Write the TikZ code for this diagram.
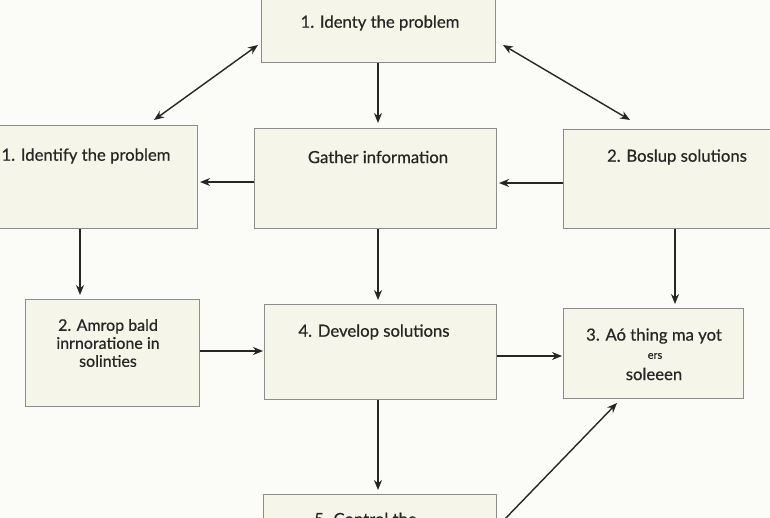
\documentclass[tikz,border=0pt]{standalone}
\usepackage{fontspec}
\setmainfont{Lato}[FakeBold=0.5]
\usetikzlibrary{arrows.meta,calc}
\definecolor{bgc}{HTML}{FBFBF7}
\definecolor{boxfill}{HTML}{F6F5EA}
\definecolor{boxline}{HTML}{8C8C88}
\definecolor{ink}{HTML}{262626}
\tikzset{
  box/.style={draw=boxline, fill=boxfill, line width=1.1pt, rectangle, inner sep=0pt},
  lbl/.style={text=ink, font=\fontsize{16.7}{18}\selectfont, align=center, inner sep=0pt},
  arr/.style={draw=ink, line width=1.4pt, -{Stealth[length=10pt,width=8pt]}},
  darr/.style={draw=ink, line width=1.4pt, {Stealth[length=10pt,width=8pt]}-{Stealth[length=10pt,width=8pt]}}
}
\newcommand{\boxat}[5]{\node[box, anchor=north west, minimum width={#4-#2}, minimum height={#5-#3}] (#1) at (#2,#3) {};}
\begin{document}
\begin{tikzpicture}[x=1pt,y=-1pt]
\useasboundingbox (0,0) rectangle (770,518);
\clip (0,0) rectangle (770,518);
\fill[bgc] (0,0) rectangle (770,518);
% boxes
\boxat{top}{261}{-5}{495}{62}
\boxat{lB}{-31}{125}{197}{228}
\boxat{mB}{254}{128}{496}{228}
\boxat{rB}{563}{129}{791}{228}
\boxat{lC}{25}{299}{199}{406}
\boxat{mC}{264}{304}{496}{399}
\boxat{rC}{563}{308}{743}{398}
\boxat{bD}{263}{494}{496}{570}
% texts
\node[lbl] (ttop) at (380,23) {1. Identy the problem};
\node[lbl] (tlB) at (86,156) {1. Identify the problem};
\node[lbl] (tmB) at (378,157) {Gather information};
\node[lbl] (trB) at (677,157) {2. Boslup solutions};
\node[lbl, font=\fontsize{16}{18}\selectfont] (tlC) at (108,343) {2. Amrop bald\\inrnoratione in\\solinties};
\node[lbl] (tmC) at (374,332) {4. Develop solutions};
\node[lbl] (trC1) at (654,336) {3. Aó thing ma yot};
\node[lbl, font=\fontsize{11}{12}\selectfont] (trC2) at (655,356) {ers};
\node[lbl] (trC3) at (654,374) {soleeen};
\node[lbl, anchor=base west] (tbD) at (314,525) {5. Control the};
% column coordinates
\coordinate (cx) at (378,0);
\coordinate (lx) at (80,0);
\coordinate (rx) at (675,0);
\coordinate (y2a) at (0,182);
\coordinate (y2b) at (0,183);
\coordinate (y3a) at (0,351);
\coordinate (y3b) at (0,356);
% vertical arrows
\draw[arr, shorten >=5pt] (top.south -| cx) -- (mB.north -| cx);
\draw[arr, shorten >=4pt] (mB.south -| cx) -- (mC.north -| cx);
\draw[arr, shorten >=4pt] (mC.south -| cx) -- (bD.north -| cx);
\draw[arr, shorten >=4pt] (lB.south -| lx) -- (lC.north -| lx);
\draw[arr, shorten >=4pt] (rB.south -| rx) -- (rC.north -| rx);
% horizontal arrows
\draw[arr, shorten >=2pt] (mB.west |- y2a) -- (lB.east |- y2a);
\draw[arr, shorten >=2pt] (rB.west |- y2b) -- (mB.east |- y2b);
\draw[arr, shorten >=1pt] (lC.east |- y3a) -- (mC.west |- y3a);
\draw[arr, shorten >=1pt] (mC.east |- y3b) -- (rC.west |- y3b);
% diagonal arrows
\coordinate (d1a) at (154,120);
\coordinate (d1b) at (258,45);
\coordinate (d2a) at (503,45);
\coordinate (d2b) at (630,120);
\coordinate (d3a) at (503,521);
\coordinate (d3b) at (617,403);
\draw[darr] (d1a) -- (d1b);
\draw[darr] (d2a) -- (d2b);
\draw[arr] (d3a) -- (d3b);
\end{tikzpicture}
\end{document}
